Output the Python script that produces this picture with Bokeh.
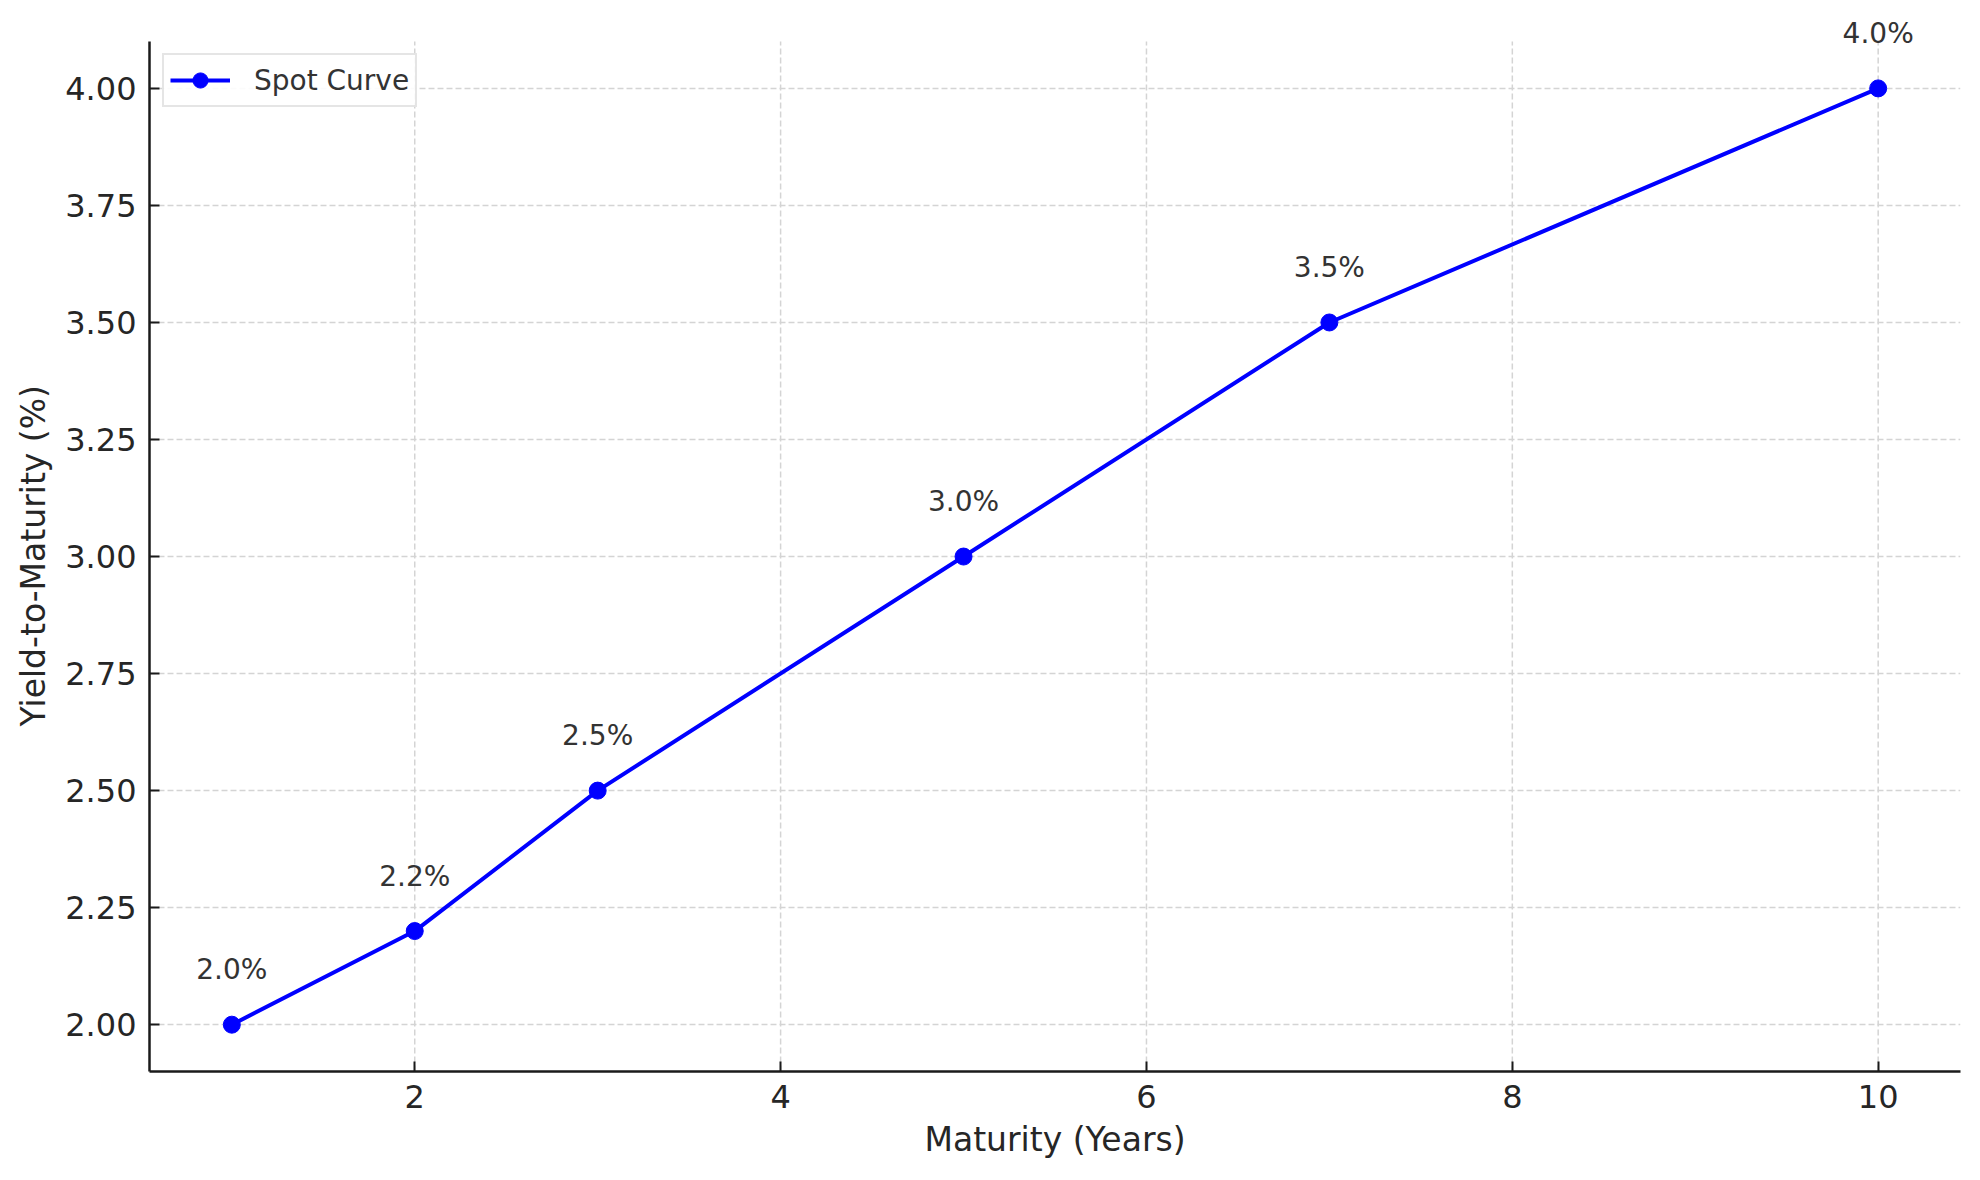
from bokeh.plotting import figure
from bokeh.models import ColumnDataSource, FixedTicker, NumeralTickFormatter, Range1d, Title
from bokeh.core.properties import value
from bokeh.embed import file_html
from bokeh.resources import INLINE

maturity = [1, 2, 3, 5, 7, 10]
yields = [2.0, 2.2, 2.5, 3.0, 3.5, 4.0]
labels = ["2.0%", "2.2%", "2.5%", "3.0%", "3.5%", "4.0%"]
x_ticks = [2, 4, 6, 8, 10]
y_ticks = [2.0, 2.25, 2.5, 2.75, 3.0, 3.25, 3.5, 3.75, 4.0]

FONT = "DejaVu Sans"
TXT = "#262626"
Y_LO, Y_HI = 1.9, 4.1   # visible axes box
Y_TOP = 4.16            # extra headroom so the top label is not clipped

source = ColumnDataSource(data=dict(x=maturity, y=yields, label=labels))

p = figure(width=1964, height=1164, output_backend="svg", toolbar_location=None,
           x_range=Range1d(0.55, 10.45), y_range=Range1d(Y_LO, Y_TOP),
           min_border_left=149, min_border_right=4, min_border_top=13, min_border_bottom=93)
p.outline_line_color = None
p.background_fill_color = "white"
p.border_fill_color = "white"

# vertical grid drawn by hand so it stops at the top of the axes box
p.xgrid.visible = False
p.segment(x0=x_ticks, y0=Y_LO, x1=x_ticks, y1=Y_HI, line_color="#d4d4d4",
          line_width=1.5, line_dash="6 3", level="underlay")

p.line("x", "y", source=source, line_color="#0000ff", line_width=4, legend_label="Spot Curve")
p.scatter("x", "y", source=source, size=17, fill_color="#0000ff", line_color="#0000ff",
          legend_label="Spot Curve")
p.text("x", "y", text="label", source=source, y_offset=-55, text_align="center",
       text_baseline="alphabetic", text_font=value(FONT), text_font_size="28px", text_color="#333333")

p.xaxis.ticker = FixedTicker(ticks=x_ticks)
p.yaxis.ticker = FixedTicker(ticks=y_ticks)
p.yaxis.formatter = NumeralTickFormatter(format="0.00")
p.yaxis.bounds = (Y_LO, Y_HI)
p.xaxis.axis_label = "Maturity (Years)"

for ax in [p.xaxis[0], p.yaxis[0]]:
    ax.axis_line_width = 2.5
    ax.axis_line_color = "#1a1a1a"
    ax.major_tick_line_color = "#1a1a1a"
    ax.major_tick_line_width = 2
    ax.major_tick_in = 10
    ax.major_tick_out = 0
    ax.minor_tick_line_color = None
    ax.major_label_text_font = FONT
    ax.major_label_text_font_size = "32px"
    ax.major_label_text_color = TXT
    ax.axis_label_text_font = FONT
    ax.axis_label_text_font_size = "33px"
    ax.axis_label_text_font_style = "normal"
    ax.axis_label_text_color = TXT
p.xaxis.major_label_standoff = 13
p.yaxis.major_label_standoff = 13
p.xaxis.axis_label_standoff = 9

# y label as a side title, so it centres on the axes box rather than the taller frame
p.add_layout(Title(text="Yield-to-Maturity (%)", align="left", offset=345, standoff=20,
                   text_font=FONT, text_font_size="33px", text_font_style="normal",
                   text_color=TXT), "left")

p.ygrid.grid_line_color = "#d4d4d4"
p.ygrid.grid_line_width = 1.5
p.ygrid.grid_line_dash = "6 3"

p.legend.location = (13, 964)
p.legend.margin = 0
p.legend.padding = 6
p.legend.glyph_width = 60
p.legend.glyph_height = 38
p.legend.label_height = 38
p.legend.label_standoff = 24
p.legend.label_text_font = FONT
p.legend.label_text_font_size = "28px"
p.legend.label_text_color = "#333333"
p.legend.border_line_color = "#cccccc"
p.legend.border_line_width = 2
p.legend.background_fill_alpha = 0.9

open("out.html", "w").write(file_html(p, INLINE))
